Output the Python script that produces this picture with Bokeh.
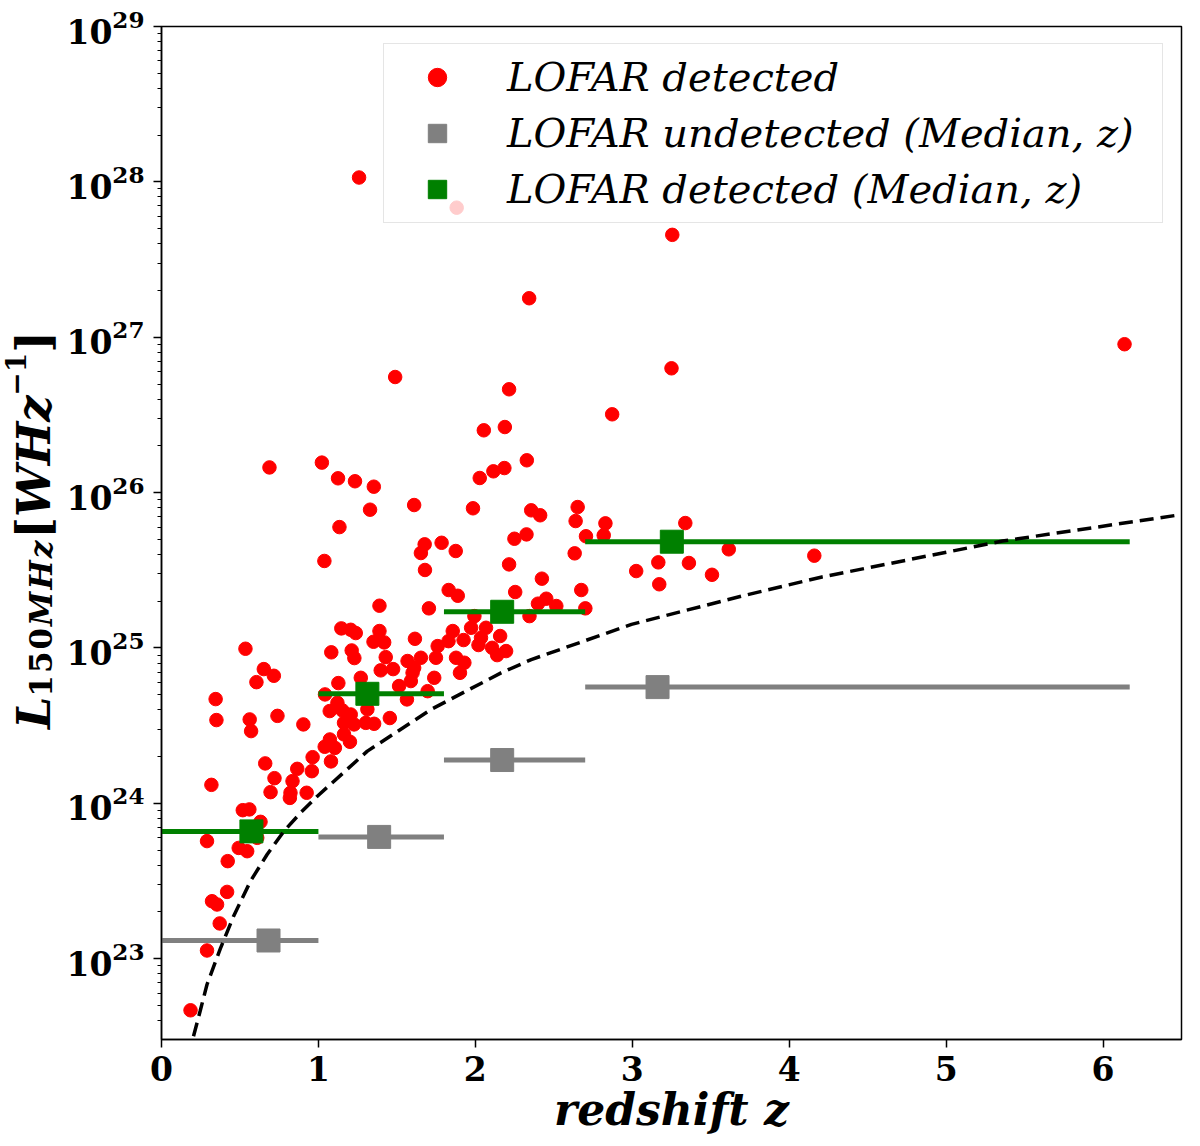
import numpy as np
from bokeh.plotting import figure
from bokeh.models import Range1d, Legend, LegendItem, FixedTicker, Div
from bokeh.layouts import row
from bokeh.embed import file_html
from bokeh.resources import INLINE

# ---------------- data ----------------
# LOFAR detected sources: redshift and log10(L_150MHz / W Hz^-1)
z_det = [1.259, 1.881, 3.255, 2.343, 6.137, 3.250, 1.489, 2.215, 2.872, 2.054,
         2.188, 2.328, 1.022, 0.688, 2.028, 2.115, 2.185, 1.125, 1.233, 1.353,
         1.610, 1.329, 1.985, 2.356, 2.413, 2.652, 2.639, 2.829, 3.338, 1.134,
         2.705, 2.818, 2.249, 2.326, 1.785, 1.677, 1.653, 1.875, 2.633, 3.615,
         4.160, 1.038, 2.215, 1.679, 3.025, 3.166, 3.361, 3.508, 2.424, 3.172,
         1.830, 1.888, 2.254, 2.675, 2.452, 2.399, 2.516, 2.701, 1.389, 1.704,
         1.994, 2.345, 1.146, 1.206, 1.238, 1.389, 1.351, 1.419, 1.615, 0.535,
         1.082, 1.212, 1.229, 1.429, 1.397, 1.476, 0.652, 0.716, 0.605, 0.345,
         0.350, 0.562, 0.571, 0.739, 0.904, 1.127, 1.270, 1.042, 1.072, 1.121,
         1.153, 1.206, 1.163, 1.227, 1.302, 1.355, 1.312, 1.455, 1.163, 1.201,
         1.073, 1.040, 1.105, 0.963, 1.080, 0.661, 0.865, 0.958, 0.720, 0.835,
         0.318, 0.695, 0.925, 0.822, 0.818, 0.518, 0.560, 0.631, 0.290, 0.492,
         0.546, 0.610, 0.422, 0.418, 0.322, 0.354, 0.371, 0.290, 0.185, 1.568,
         1.653, 1.610, 1.738, 1.760, 1.829, 1.856, 1.925, 1.877, 1.930, 1.902,
         1.973, 2.068, 2.036, 2.020, 2.107, 2.139, 2.158, 1.589, 1.514, 1.696,
         1.564, 1.600, 2.196, 1.749]
logL_det = [28.028, 27.834, 27.659, 27.251, 26.955, 26.800, 26.744, 26.665, 26.504, 26.401,
            26.422, 26.208, 26.193, 26.162, 26.094, 26.137, 26.158, 26.092, 26.073, 26.038,
            25.920, 25.890, 25.899, 25.886, 25.854, 25.907, 25.817, 25.802, 25.804, 25.778,
            25.719, 25.725, 25.703, 25.731, 25.677, 25.667, 25.611, 25.624, 25.609, 25.635,
            25.594, 25.560, 25.538, 25.502, 25.495, 25.551, 25.547, 25.471, 25.446, 25.410,
            25.373, 25.336, 25.360, 25.373, 25.317, 25.285, 25.270, 25.255, 25.272, 25.255,
            25.205, 25.205, 25.126, 25.117, 25.096, 25.109, 25.040, 25.036, 25.059, 24.995,
            24.972, 24.984, 24.935, 24.941, 24.856, 24.864, 24.864, 24.821, 24.780, 24.671,
            24.536, 24.540, 24.465, 24.563, 24.508, 24.774, 24.808, 24.701, 24.594, 24.647,
            24.598, 24.572, 24.518, 24.508, 24.518, 24.512, 24.605, 24.549, 24.444, 24.396,
            24.411, 24.364, 24.357, 24.297, 24.270, 24.257, 24.222, 24.207, 24.162, 24.143,
            24.119, 24.072, 24.068, 24.068, 24.035, 23.956, 23.961, 23.881, 23.757, 23.713,
            23.692, 23.778, 23.628, 23.430, 23.370, 23.349, 23.227, 23.053, 22.668, 24.916,
            24.937, 24.872, 24.808, 25.012, 25.044, 25.109, 25.051, 24.937, 24.905, 24.840,
            25.130, 25.130, 25.066, 25.019, 25.001, 24.954, 25.077, 24.787, 24.755, 24.722,
            24.669, 24.840, 24.980, 24.937]
L_det = [10.0 ** v for v in logL_det]

# redshift bins used for the medians
bin_lo = [0.0, 1.0, 1.8, 2.7]
bin_hi = [1.0, 1.8, 2.7, 6.17]

# medians of detected sources
z_med_det = [0.573, 1.312, 2.171, 3.252]
L_med_det = [6.6e23, 5.07e24, 1.71e25, 4.83e25]

# medians of undetected sources (stacked)
z_med_undet = [0.682, 1.387, 2.171, 3.161]
L_med_undet = [1.31e23, 6.08e23, 1.90e24, 5.6e24]

# detection-limit curve
z_lim = [0.204, 0.246, 0.290, 0.375, 0.460, 0.567, 0.673, 0.780, 0.886, 0.993,
         1.312, 1.719, 2.164, 2.356, 2.995, 3.698, 4.209, 5.359, 6.509]
logL_lim = [22.501, 22.662, 22.834, 23.065, 23.275, 23.499, 23.671, 23.821, 23.939, 24.046,
            24.336, 24.605, 24.840, 24.925, 25.152, 25.334, 25.457, 25.688, 25.860]
L_lim = [10.0 ** v for v in logL_lim]

x_ticks = [0, 1, 2, 3, 4, 5, 6]

# ---------------- layout sizes ----------------
DIV_W = 60
W, H = 1192 - DIV_W, 1144
ML, MR, MT, MB = 161 - DIV_W, 11, 26, 105

p = figure(width=W, height=H, y_axis_type="log",
           x_range=Range1d(0.0, 6.5), y_range=Range1d(10 ** 22.48, 1e29),
           output_backend="svg", toolbar_location=None,
           min_border_left=ML, min_border_right=MR,
           min_border_top=MT, min_border_bottom=MB)
p.background_fill_color = "white"
p.border_fill_color = "white"
p.outline_line_color = "black"
p.outline_line_width = 1.5
p.xgrid.grid_line_color = None
p.ygrid.grid_line_color = None

tick_font = "DejaVu Serif"
for ax in (p.xaxis[0], p.yaxis[0]):
    ax.axis_line_color = "black"
    ax.axis_line_width = 1.5
    ax.major_tick_line_color = "black"
    ax.major_tick_line_width = 1.5
    ax.major_tick_in = 0
    ax.major_tick_out = 8
    ax.minor_tick_in = 0
    ax.minor_tick_out = 4
    ax.minor_tick_line_color = "black"
    ax.minor_tick_line_width = 1
    ax.major_label_text_font = tick_font
    ax.major_label_text_font_style = "bold"
    ax.major_label_text_font_size = "33px"
    ax.major_label_text_color = "black"

p.xaxis.ticker = FixedTicker(ticks=x_ticks)
p.xaxis.minor_tick_line_color = None
p.xaxis.major_label_standoff = 8
p.xaxis.axis_label = "redshift z"
p.xaxis.axis_label_text_font = "DejaVu Serif"
p.xaxis.axis_label_text_font_style = "bold italic"
p.xaxis.axis_label_text_font_size = "44px"
p.xaxis.axis_label_text_color = "black"
p.xaxis.axis_label_standoff = 0
p.yaxis.major_label_standoff = 9
p.yaxis.axis_label = None

# ---------------- glyphs ----------------
r_det = p.scatter(z_det, L_det, marker="circle", size=13.5,
                  fill_color="#ff0000", line_color="#ff0000")

p.segment(x0=bin_lo, y0=L_med_undet, x1=bin_hi, y1=L_med_undet,
          line_color="#808080", line_width=5)
r_undet = p.scatter(z_med_undet, L_med_undet, marker="square", size=23,
                    fill_color="#808080", line_color="#808080")

p.segment(x0=bin_lo, y0=L_med_det, x1=bin_hi, y1=L_med_det,
          line_color="#008000", line_width=5)
r_med = p.scatter(z_med_det, L_med_det, marker="square", size=23,
                  fill_color="#008000", line_color="#008000")

p.line(z_lim, L_lim, line_color="black", line_width=3.5, line_dash="14 7")

# ---------------- legend ----------------
legend = Legend(items=[
    LegendItem(label="LOFAR detected", renderers=[r_det]),
    LegendItem(label="LOFAR undetected (Median, z)", renderers=[r_undet]),
    LegendItem(label="LOFAR detected (Median, z)", renderers=[r_med]),
], location=(222, 816))
legend.margin = 0
legend.padding = 10
legend.spacing = 10
legend.glyph_width = 86
legend.glyph_height = 46
legend.label_height = 46
legend.label_width = 645
legend.label_standoff = 27
legend.label_text_font = "DejaVu Serif"
legend.label_text_font_style = "italic"
legend.label_text_font_size = "40px"
legend.label_text_color = "black"
legend.border_line_color = "#cccccc"
legend.border_line_width = 1.5
legend.background_fill_color = "white"
legend.background_fill_alpha = 0.8
p.add_layout(legend)

# ---------------- y-axis label (rotated, with sub/superscript) ----------------
ylabel_html = (
    '<div style="position:relative;width:%dpx;height:%dpx;">'
    '<div style="position:absolute;left:11px;top:729px;transform:rotate(-90deg);'
    'transform-origin:left top;white-space:nowrap;font-family:\'DejaVu Serif\';'
    'font-weight:bold;font-style:italic;font-size:46px;line-height:1;color:black;">'
    'L<sub style="font-size:31px;line-height:0;vertical-align:-2px;letter-spacing:2px;">'
    '<span style="font-style:normal;">150</span>MHz</sub>'
    '<span style="font-style:normal;">[</span>WHz'
    '<sup style="font-size:28px;line-height:0;vertical-align:24px;font-style:normal;">'
    '\u22121</sup><span style="font-style:normal;">]</span></div></div>'
) % (DIV_W, H)
ylab = Div(text=ylabel_html, width=DIV_W, height=H, margin=0)

layout = row(ylab, p, spacing=0)
open("out.html", "w").write(file_html(layout, INLINE))
